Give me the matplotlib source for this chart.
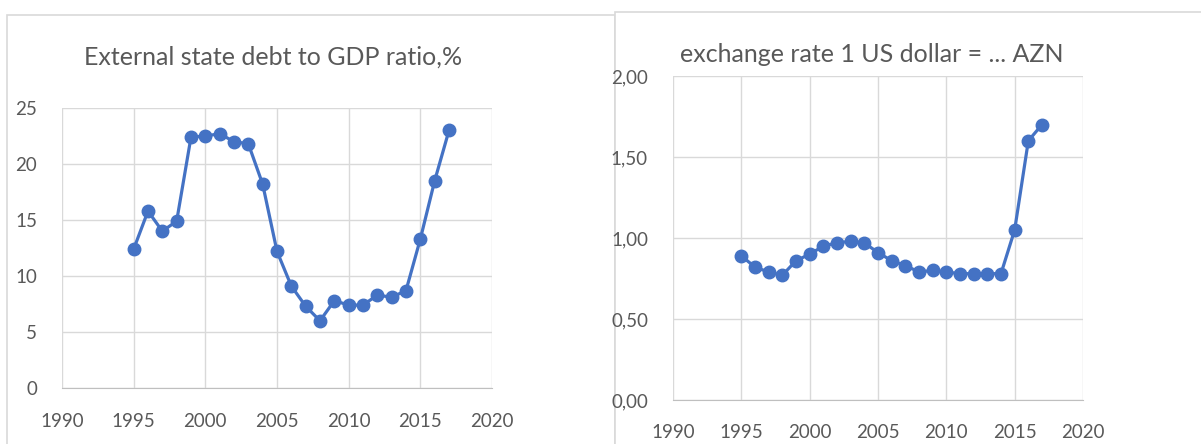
import matplotlib
matplotlib.use('Agg')
import matplotlib.pyplot as plt
from matplotlib.patches import Rectangle
from matplotlib.ticker import FuncFormatter

years = list(range(1995, 2018))
debt_gdp = [12.4, 15.8, 14.0, 14.9, 22.4, 22.5, 22.7, 22.0, 21.8, 18.2, 12.2,
            9.1, 7.3, 6.0, 7.8, 7.4, 7.4, 8.3, 8.1, 8.7, 13.3, 18.5, 23.0]
usd_azn = [0.89, 0.82, 0.79, 0.77, 0.86, 0.90, 0.95, 0.97, 0.98, 0.97, 0.91,
           0.86, 0.83, 0.79, 0.80, 0.79, 0.78, 0.78, 0.78, 0.78, 1.05, 1.60, 1.70]

titles = ('External state debt to GDP ratio,%', 'exchange rate 1 US dollar = ... AZN')
x_ticks = [1990, 1995, 2000, 2005, 2010, 2015, 2020]

plt.rcParams['font.family'] = ['Lato', 'DejaVu Sans']
W, H = 1201, 444
fig = plt.figure(figsize=(W/100, H/100), dpi=100)

blue = '#4472C4'
grey_txt = '#595959'
grid_c = '#d9d9d9'

# chart boxes, kept behind the axes
fig.patches.append(Rectangle((7/W, -0.01), 608/W, (444-15)/H + 0.01, transform=fig.transFigure,
                             facecolor='white', edgecolor='#d9d9d9', lw=1.2, zorder=-2))
fig.patches.append(Rectangle((615/W, -0.01), 600/W, (444-12)/H + 0.01, transform=fig.transFigure,
                             facecolor='white', edgecolor='#d9d9d9', lw=1.2, zorder=-1))

def style(ax, yticks, fmt):
    ax.set_xlim(1990, 2020)
    ax.set_xticks(x_ticks)
    ax.set_yticks(yticks)
    ax.set_ylim(yticks[0], yticks[-1])
    ax.yaxis.set_major_formatter(FuncFormatter(fmt))
    ax.grid(True, color=grid_c, lw=1)
    ax.set_axisbelow(True)
    ax.patch.set_alpha(0)
    for s in ('top', 'right', 'left'):
        ax.spines[s].set_visible(False)
    ax.spines['bottom'].set_color('#bfbfbf')
    ax.tick_params(length=0, colors=grey_txt, labelsize=13.5)

ax1 = fig.add_axes([62/W, (H-388)/H, 430/W, 280/H])
ax1.plot(years, debt_gdp, color=blue, lw=2.3, marker='o', ms=9)
style(ax1, [0, 5, 10, 15, 20, 25], lambda v, p: '%d' % v)
ax1.tick_params(axis='y', pad=18)
ax1.tick_params(axis='x', pad=18)
fig.text(273/W, 1 - 57/H, titles[0], ha='center', va='center', fontsize=18, color=grey_txt)

ax2 = fig.add_axes([673/W, (H-400)/H, 410/W, 324/H])
ax2.plot(years, usd_azn, color=blue, lw=2.3, marker='o', ms=9)
style(ax2, [0, 0.5, 1.0, 1.5, 2.0], lambda v, p: ('%.2f' % v).replace('.', ','))
ax2.tick_params(axis='y', pad=18)
ax2.tick_params(axis='x', pad=17)
fig.text(872/W, 1 - 55/H, titles[1], ha='center', va='center', fontsize=18, color=grey_txt)

fig.savefig('out.png', dpi=100)
